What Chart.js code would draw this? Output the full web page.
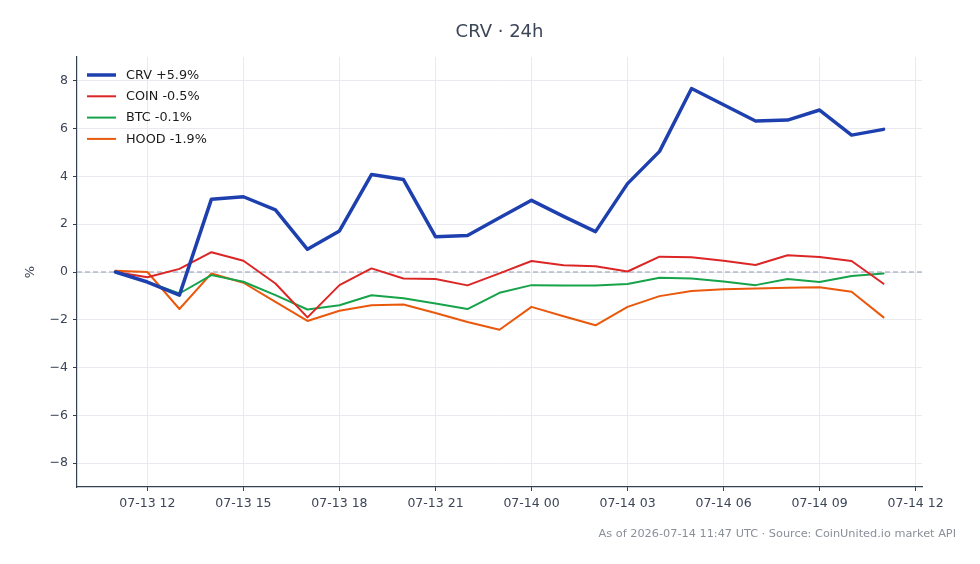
<!DOCTYPE html>
<html>
<head>
<meta charset="utf-8">
<script src="https://cdn.jsdelivr.net/npm/chart.js@4/dist/chart.umd.min.js"></script>
<style>
  html, body { margin: 0; padding: 0; background: #fff; }
  #wrap { width: 980px; height: 564px; }
</style>
</head>
<body>
<div id="wrap"><canvas id="chart" width="980" height="564"></canvas></div>
<script>
// thời điểm (UTC), mỗi giờ một điểm
const times = ['07-13 11','07-13 12','07-13 13','07-13 14','07-13 15','07-13 16','07-13 17','07-13 18',
  '07-13 19','07-13 20','07-13 21','07-13 22','07-13 23','07-14 00','07-14 01','07-14 02','07-14 03',
  '07-14 04','07-14 05','07-14 06','07-14 07','07-14 08','07-14 09','07-14 10','07-14 11'];

const crv  = [0, -0.42, -0.97, 3.05, 3.15, 2.6, 0.95, 1.72, 4.08, 3.87, 1.48, 1.53, 2.27, 3.0, 2.33, 1.69, 3.7, 5.05, 7.68, 7.0, 6.32, 6.36, 6.78, 5.73, 5.97];
const coin = [0, -0.22, 0.13, 0.83, 0.47, -0.48, -1.9, -0.55, 0.15, -0.27, -0.29, -0.56, -0.06, 0.46, 0.28, 0.24, 0.02, 0.64, 0.62, 0.47, 0.29, 0.7, 0.63, 0.46, -0.49];
const btc  = [0, -0.42, -0.9, -0.13, -0.41, -0.97, -1.57, -1.39, -0.97, -1.1, -1.32, -1.55, -0.87, -0.55, -0.57, -0.57, -0.5, -0.24, -0.27, -0.4, -0.55, -0.29, -0.42, -0.17, -0.06];
const hood = [0.05, 0.0, -1.55, -0.06, -0.45, -1.25, -2.05, -1.62, -1.39, -1.36, -1.72, -2.09, -2.42, -1.46, -1.85, -2.23, -1.46, -1.01, -0.8, -0.72, -0.69, -0.66, -0.64, -0.83, -1.9];

const seriesLabels = ['CRV +5.9%', 'COIN -0.5%', 'BTC -0.1%', 'HOOD -1.9%'];
const xTickLabels = ['07-13 12','07-13 15','07-13 18','07-13 21','07-14 00','07-14 03','07-14 06','07-14 09','07-14 12'];
const yTicks = [-8, -6, -4, -2, 0, 2, 4, 6, 8];

const titleText = 'CRV \u00b7 24h';
const footerText = 'As of 2026-07-14 11:47 UTC \u00b7 Source: CoinUnited.io market API';

// "07-13 11" -> số giờ tính từ 07-13 00:00
function toHours(s) {
    const day = parseInt(s.slice(3, 5), 10);
    const hour = parseInt(s.slice(6, 8), 10);
    return (day - 13) * 24 + hour;
}
const xs = times.map(toHours);
const xTickValues = xTickLabels.map(toHours);

const FONT = "'DejaVu Sans', sans-serif";
const colors = ['#1e40af', '#dc2626', '#16a34a', '#ea580c'];
const widths = [3.5, 2, 2, 2];

function toPoints(arr) {
    return arr.map((v, i) => ({ x: xs[i], y: v }));
}

const datasets = [crv, coin, btc, hood].map((arr, i) => ({
    label: seriesLabels[i],
    data: toPoints(arr),
    borderColor: colors[i],
    backgroundColor: colors[i],
    borderWidth: widths[i],
    pointRadius: 0,
    tension: 0,
    borderJoinStyle: 'round',
    borderCapStyle: 'round',
    order: i  // CRV nằm trên cùng
}));

// vẽ tiêu đề, chú thích, đường 0, nhãn trục y và dòng nguồn
const decorPlugin = {
    id: 'decor',
    beforeDatasetsDraw(chart) {
        const { ctx, chartArea, scales } = chart;
        const y0 = scales.y.getPixelForValue(0);
        ctx.save();
        ctx.strokeStyle = '#8e99b3';
        ctx.lineWidth = 1;
        ctx.setLineDash([5, 3]);
        ctx.beginPath();
        ctx.moveTo(chartArea.left, y0);
        ctx.lineTo(chartArea.right, y0);
        ctx.stroke();
        ctx.restore();
    },
    afterDraw(chart) {
        const { ctx, chartArea } = chart;
        ctx.save();
        // tiêu đề
        ctx.fillStyle = '#3b4658';
        ctx.font = `18px ${FONT}`;
        ctx.textAlign = 'center';
        ctx.textBaseline = 'middle';
        ctx.fillText(titleText, (chartArea.left + chartArea.right) / 2, 32);

        // nhãn trục y
        ctx.save();
        ctx.translate(31, (chartArea.top + chartArea.bottom) / 2);
        ctx.rotate(-Math.PI / 2);
        ctx.font = `13px ${FONT}`;
        ctx.fillStyle = '#3b4658';
        ctx.fillText('%', 0, 0);
        ctx.restore();

        // nguồn
        ctx.fillStyle = '#8a8f99';
        ctx.font = `11.3px ${FONT}`;
        ctx.textAlign = 'right';
        ctx.fillText(footerText, 956, 534);

        // chú thích
        ctx.textAlign = 'left';
        ctx.font = `12.8px ${FONT}`;
        chart.data.datasets.forEach((ds, i) => {
            const y = 75 + i * 21.3;
            ctx.strokeStyle = ds.borderColor;
            ctx.lineWidth = ds.borderWidth;
            ctx.setLineDash([]);
            ctx.beginPath();
            ctx.moveTo(87, y);
            ctx.lineTo(116, y);
            ctx.stroke();
            ctx.fillStyle = '#1a1a1a';
            ctx.fillText(ds.label, 126, y + 0.5);
        });
        ctx.restore();
    }
};

new Chart(document.getElementById('chart').getContext('2d'), {
    type: 'line',
    data: { datasets: datasets },
    options: {
        responsive: false,
        animation: false,
        devicePixelRatio: 1,
        layout: { padding: { top: 57, right: 58, bottom: 47, left: 0 } },
        plugins: {
            legend: { display: false },
            title: { display: false },
            tooltip: { enabled: false }
        },
        scales: {
            x: {
                type: 'linear',
                min: 9.8,
                max: 36.2,
                afterBuildTicks: scale => { scale.ticks = xTickValues.map(v => ({ value: v })); },
                afterFit: scale => { scale.height = 30; },
                ticks: {
                    autoSkip: false,
                    maxRotation: 0,
                    padding: 5,
                    color: '#3b4658',
                    font: { family: FONT, size: 12.5 },
                    callback: (value) => {
                        const idx = xTickValues.indexOf(value);
                        return idx >= 0 ? xTickLabels[idx] : '';
                    }
                },
                grid: { color: '#e8eaef', lineWidth: 1, tickColor: '#334155', tickLength: 4 },
                border: { display: true, color: '#334155', width: 1.2 }
            },
            y: {
                min: -9,
                max: 9,
                afterBuildTicks: scale => { scale.ticks = yTicks.map(v => ({ value: v })); },
                afterFit: scale => { scale.width = 77; },
                ticks: {
                    padding: 5,
                    color: '#3b4658',
                    font: { family: FONT, size: 12.5 },
                    callback: v => (v < 0 ? '\u2212' + Math.abs(v) : String(v))
                },
                grid: { color: '#e8eaef', lineWidth: 1, tickColor: '#334155', tickLength: 4 },
                border: { display: true, color: '#334155', width: 1.2 }
            }
        }
    },
    plugins: [decorPlugin]
});
</script>
</body>
</html>
